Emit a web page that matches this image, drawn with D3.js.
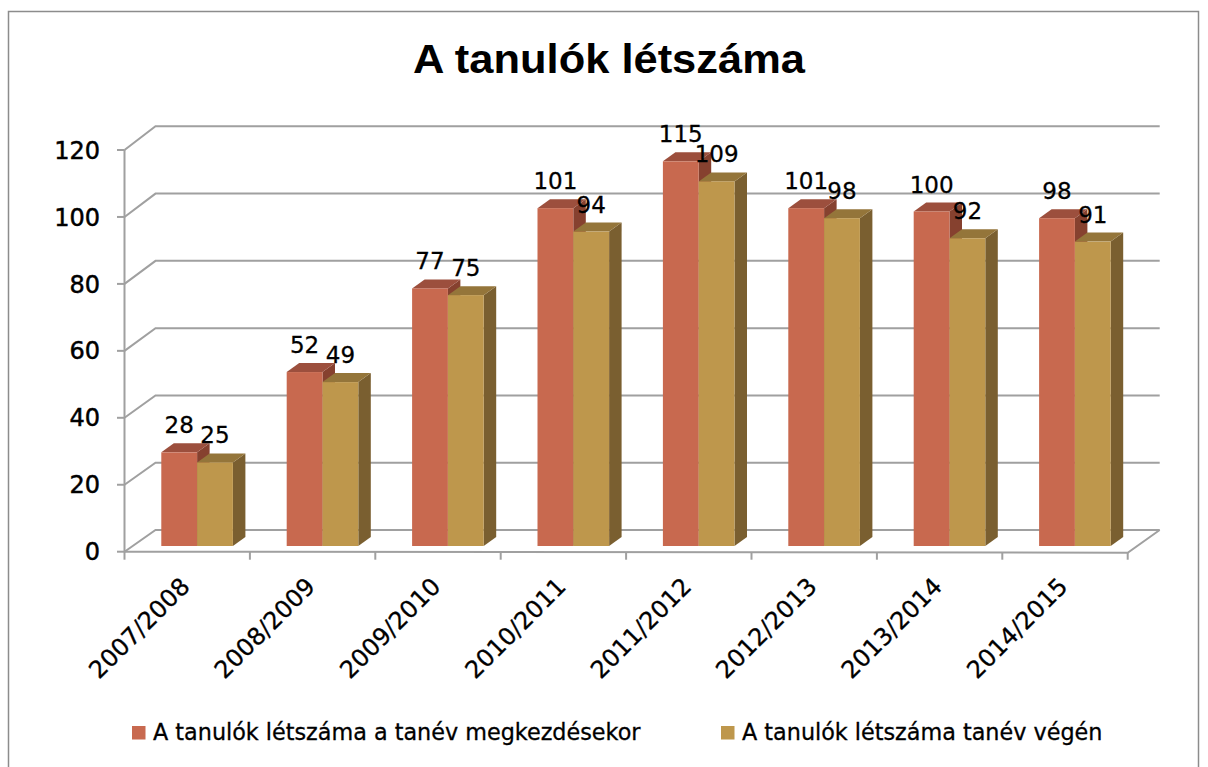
<!DOCTYPE html>
<html>
<head>
<meta charset="utf-8">
<script src="https://cdn.jsdelivr.net/npm/d3@7"></script>
<style>
  body { margin: 0; background: #fff; }
  text { font-family: "DejaVu Sans", Verdana, sans-serif; fill: #000; }
</style>
</head>
<body>
<script>
const width = 1208;
const height = 767;

// data
const categories = ["2007/2008", "2008/2009", "2009/2010", "2010/2011", "2011/2012", "2012/2013", "2013/2014", "2014/2015"];
const seriesNames = ["A tanulók létszáma a tanév megkezdésekor", "A tanulók létszáma tanév végén"];
const startValues = [28, 52, 77, 101, 115, 101, 100, 98];
const endValues = [25, 49, 75, 94, 109, 98, 92, 91];
const yTicks = [0, 20, 40, 60, 80, 100, 120];
const title = "A tanulók létszáma";

const colors = {
  front: ["#C8694F", "#BE974C"],
  top: ["#9C4F3D", "#94753A"],
  side: ["#86412F", "#7A5F30"],
  grid: "#A0A0A0",
};

// 3d geometry of the plot box
const frontLeft = 124.5, frontRight = 1127.7;
const wallDx = 31, barDx = 12.5, barDy = -9;

const svg = d3.select("body").append("svg")
  .attr("width", width)
  .attr("height", height);

svg.append("rect")
  .attr("x", 8.5).attr("y", 11.5)
  .attr("width", 1190).attr("height", 800)
  .style("fill", "#fff")
  .style("stroke", "#8C8C8C")
  .style("stroke-width", 1.5);

// scales
const yFront = d3.scaleLinear().domain([0, 120]).range([551.7, 150]);
const yBack = d3.scaleLinear().domain([0, 120]).range([530, 126.3]);
const yBar = d3.scaleLinear().domain([0, 120]).range([546, 144.6]);
const x0 = d3.scaleBand().domain(categories).range([frontLeft, frontRight]);
const x1 = d3.scaleBand().domain([0, 1]).range([36.8, 108.4]);

// title
svg.append("text")
  .attr("x", 609).attr("y", 72.5)
  .attr("text-anchor", "middle")
  .attr("textLength", 392)
  .attr("lengthAdjust", "spacingAndGlyphs")
  .style("font-family", "'Liberation Sans', Arial, sans-serif")
  .style("font-weight", "bold")
  .style("font-size", "41px")
  .text(title);

// walls and grid
const grid = svg.append("g").classed("grid", true)
  .style("stroke", colors.grid)
  .style("stroke-width", 2)
  .style("fill", "none");

yTicks.forEach((t) => {
  grid.append("path")
    .attr("d", `M${frontLeft},${yFront(t)}L${frontLeft + wallDx},${yBack(t)}L${frontRight + 32},${yBack(t)}`);
  grid.append("path")
    .attr("d", `M${frontLeft - 7.5},${yFront(t)}L${frontLeft},${yFront(t)}`);
});
grid.append("path")
  .attr("d", `M${frontLeft},${yFront(120)}L${frontLeft},${yFront(0)}`);
// floor
grid.append("path")
  .attr("d", `M${frontLeft},${yFront(0)}L${frontRight},${yFront(0) + 1}L${frontRight + 32},${yBack(0)}`);
// category ticks
d3.range(categories.length + 1).forEach((i) => {
  const x = frontLeft + i * x0.bandwidth();
  grid.append("path")
    .attr("d", `M${x},${yFront(0) + (i / categories.length)}L${x},${yFront(0) + 8}`);
});

// y tick labels
svg.append("g").selectAll("text")
  .data(yTicks)
  .enter()
  .append("text")
  .attr("x", 100)
  .attr("y", (d) => yFront(d))
  .attr("dy", "0.36em")
  .attr("text-anchor", "end")
  .style("font-size", "24px")
  .style("stroke", "#000")
  .style("stroke-width", 0.5)
  .text((d) => d);

// bars
const rows = categories.map((c, i) => [
  { cat: c, s: 0, v: startValues[i] },
  { cat: c, s: 1, v: endValues[i] },
]);

const bars = svg.append("g").classed("bars", true);
rows.forEach((pair) => {
  pair.forEach((d) => {
    const x = x0(d.cat) + x1(d.s);
    const w = x1.bandwidth();
    const y = yBar(d.v);
    const b = yBar(0);
    const g = bars.append("g");
    g.append("path")
      .attr("d", `M${x + w},${y}L${x + w + barDx},${y + barDy}L${x + w + barDx},${b + barDy}L${x + w},${b}Z`)
      .style("fill", colors.side[d.s]);
    g.append("path")
      .attr("d", `M${x},${y}L${x + barDx},${y + barDy}L${x + w + barDx},${y + barDy}L${x + w},${y}Z`)
      .style("fill", colors.top[d.s]);
    g.append("rect")
      .attr("x", x).attr("y", y)
      .attr("width", w).attr("height", b - y)
      .style("fill", colors.front[d.s]);
  });
});

// value labels
const labels = svg.append("g").classed("labels", true);
rows.forEach((pair) => {
  pair.forEach((d) => {
    labels.append("text")
      .attr("x", x0(d.cat) + x1(d.s) + x1.bandwidth() / 2)
      .attr("y", yBar(d.v) - 19)
      .attr("text-anchor", "middle")
      .style("font-size", "23px")
      .style("stroke", "#000")
      .style("stroke-width", 0.3)
      .text(d.v);
  });
});

// category labels
svg.append("g").selectAll("text")
  .data(categories)
  .enter()
  .append("text")
  .attr("transform", (d) => `translate(${x0(d) + x0.bandwidth() / 2 + 4},${588}) rotate(-45)`)
  .attr("text-anchor", "end")
  .style("font-size", "24px")
  .style("stroke", "#000")
  .style("stroke-width", 0.3)
  .text((d) => d);

// legend
const legendX = [132, 721];
const legend = svg.append("g").classed("legend", true);
seriesNames.forEach((name, i) => {
  legend.append("rect")
    .attr("x", legendX[i]).attr("y", 726)
    .attr("width", 13.5).attr("height", 13.5)
    .style("fill", colors.front[i]);
  legend.append("text")
    .attr("x", legendX[i] + 21)
    .attr("y", 740)
    .style("font-size", "22.3px")
    .style("stroke", "#000")
    .style("stroke-width", 0.3)
    .text(name);
});
</script>
</body>
</html>
